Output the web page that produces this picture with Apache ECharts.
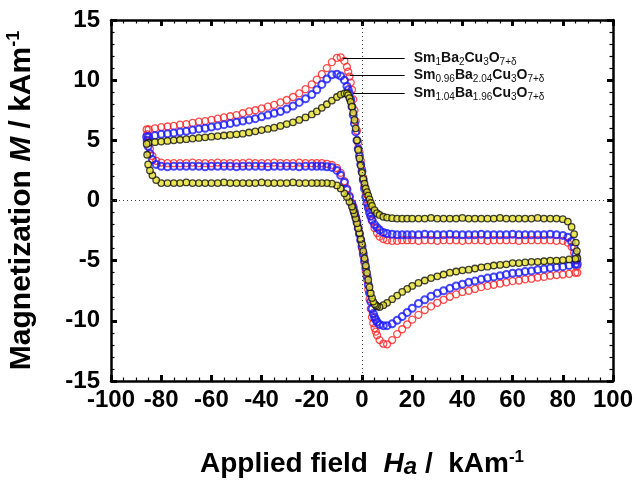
<!DOCTYPE html>
<html>
<head>
<meta charset="utf-8">
<script src="https://cdn.jsdelivr.net/npm/echarts@6/dist/echarts.min.js"></script>
<style>
  html, body { margin: 0; padding: 0; background: #fff; }
  #chart { width: 637px; height: 480px; }
</style>
</head>
<body>
<div id="chart"></div>
<script>
// field sweep going up (left -> right), then the reversal at +86
const fieldUp = [
  -85, -82.5, -80, -77.5, -75, -72.5, -70, -67.5, -65, -62.5,
  -60, -57.5, -55, -52.5, -50, -47.5, -45, -42.5, -40, -37.5,
  -35, -32.5, -30, -27.5, -25, -22.5, -20,
  -18, -16, -14, -12, -10, -8.5, -7,
  -6, -5.5, -5, -4.5, -4, -3.5, -3, -2.5, -2, -1.5, -1, -0.5, 0, 0.5, 1, 1.5, 2, 2.5, 3, 3.5, 4,
  5, 6, 7, 8.5, 10, 12, 14, 16, 18,
  20, 22.5, 25, 27.5, 30, 32.5, 35, 37.5, 40, 42.5, 45, 47.5, 50, 52.5, 55, 57.5, 60, 62.5, 65, 67.5, 70, 72.5, 75, 77.5, 80,
  82, 83.5, 84.5, 85.2, 85.6, 85.8
];
// field sweep going down (right -> left), then the reversal at -86
const fieldDown = [
  85, 82.5, 80, 77.5, 75, 72.5, 70, 67.5, 65, 62.5,
  60, 57.5, 55, 52.5, 50, 47.5, 45, 42.5, 40, 37.5,
  35, 32.5, 30, 27.5, 25, 22.5, 20,
  18, 16, 14, 12, 10, 8.5, 7,
  6, 5.5, 5, 4.5, 4, 3.5, 3, 2.5, 2, 1.5, 1, 0.5, 0, -0.5, -1, -1.5, -2, -2.5, -3, -3.5, -4,
  -5, -6, -7, -8.5, -10, -12, -14, -16, -18,
  -20, -22.5, -25, -27.5, -30, -32.5, -35, -37.5, -40, -42.5, -45, -47.5, -50, -52.5, -55, -57.5, -60, -62.5, -65, -67.5, -70, -72.5, -75, -77.5, -80,
  -82, -83.5, -84.5, -85.2, -85.6, -85.8
];

// Sm1Ba2Cu3O7+d (red)
const redUp = [
  5.9, 6.0, 6.1, 6.15, 6.2, 6.3, 6.35, 6.45, 6.55, 6.6,
  6.7, 6.8, 6.9, 7.0, 7.1, 7.25, 7.4, 7.5, 7.65, 7.8,
  7.95, 8.15, 8.35, 8.6, 8.9, 9.25, 9.65,
  10.05, 10.5, 11.0, 11.5, 11.85, 11.9, 11.6,
  11.1, 10.7, 10.3, 9.8, 9.2, 8.4, 7.5, 6.6, 5.8, 4.8, 4.0, 3.3, 2.6, 1.9, 1.2, 0.6, 0.1, -0.4, -0.8, -1.3, -1.7,
  -2.3, -2.7, -3.0, -3.2, -3.3, -3.35, -3.35, -3.3, -3.3,
  -3.3, -3.35, -3.3, -3.3, -3.35, -3.3, -3.3, -3.3, -3.35, -3.3, -3.3, -3.3, -3.35, -3.3, -3.3, -3.3, -3.3, -3.35, -3.3, -3.3, -3.3, -3.3, -3.3, -3.35, -3.35,
  -3.5, -3.85, -4.35, -4.95, -5.5, -6.0
];
const redDown = [
  -6.0, -6.1, -6.15, -6.2, -6.25, -6.35, -6.4, -6.5, -6.55, -6.65,
  -6.7, -6.8, -6.9, -7.0, -7.1, -7.2, -7.35, -7.5, -7.6, -7.8,
  -8.0, -8.25, -8.5, -8.8, -9.1, -9.5, -9.9,
  -10.3, -10.7, -11.1, -11.6, -11.95, -11.9, -11.6,
  -11.2, -10.9, -10.6, -10.2, -9.7, -9.0, -8.2, -7.4, -6.6, -5.9, -5.2, -4.6, -4.0, -3.3, -2.7, -2.2, -1.7, -1.3, -0.9, -0.5, -0.2,
  0.4, 1.0, 1.6, 2.3, 2.7, 2.95, 3.05, 3.1, 3.1,
  3.1, 3.1, 3.15, 3.1, 3.1, 3.1, 3.15, 3.1, 3.1, 3.1, 3.15, 3.1, 3.1, 3.1, 3.1, 3.15, 3.1, 3.1, 3.1, 3.15, 3.1, 3.1, 3.1, 3.1, 3.15,
  3.3, 3.7, 4.3, 4.9, 5.5, 5.9
];

// Sm0.96Ba2.04Cu3O7+d (blue)
const blueUp = [
  5.3, 5.4, 5.5, 5.55, 5.6, 5.7, 5.75, 5.85, 5.95, 6.0,
  6.1, 6.2, 6.3, 6.4, 6.5, 6.6, 6.7, 6.8, 6.95, 7.1,
  7.25, 7.4, 7.6, 7.85, 8.15, 8.45, 8.8,
  9.2, 9.65, 10.1, 10.45, 10.5, 10.35, 10.0,
  9.5, 9.2, 8.9, 8.4, 7.8, 7.1, 6.4, 5.7, 5.0, 4.3, 3.7, 3.0, 2.4, 1.7, 1.0, 0.3, -0.2, -0.6, -1.0, -1.3, -1.6,
  -2.0, -2.25, -2.45, -2.65, -2.75, -2.8, -2.85, -2.85, -2.85,
  -2.85, -2.85, -2.8, -2.85, -2.85, -2.85, -2.8, -2.85, -2.85, -2.85, -2.85, -2.8, -2.85, -2.85, -2.85, -2.85, -2.8, -2.85, -2.85, -2.85, -2.85, -2.85, -2.8, -2.85, -2.9,
  -3.05, -3.4, -3.9, -4.5, -4.95, -5.3
];
const blueDown = [
  -5.3, -5.4, -5.5, -5.55, -5.6, -5.7, -5.75, -5.85, -5.9, -6.0,
  -6.05, -6.15, -6.25, -6.35, -6.45, -6.55, -6.7, -6.8, -6.95, -7.1,
  -7.3, -7.5, -7.7, -7.95, -8.25, -8.55, -8.95,
  -9.3, -9.65, -9.95, -10.25, -10.4, -10.4, -10.3,
  -10.1, -9.9, -9.7, -9.4, -9.0, -8.4, -7.7, -7.0, -6.3, -5.6, -5.0, -4.4, -3.8, -3.3, -2.8, -2.3, -1.8, -1.4, -1.0, -0.6, -0.3,
  0.3, 0.9, 1.5, 2.1, 2.5, 2.75, 2.8, 2.85, 2.85,
  2.85, 2.85, 2.8, 2.85, 2.85, 2.85, 2.85, 2.8, 2.85, 2.85, 2.85, 2.85, 2.8, 2.85, 2.85, 2.85, 2.85, 2.8, 2.85, 2.85, 2.85, 2.85, 2.85, 2.8, 2.85,
  3.0, 3.4, 3.9, 4.5, 5.0, 5.3
];

// Sm1.04Ba1.96Cu3O7+d (black / yellow)
const blackUp = [
  4.8, 4.85, 4.9, 4.95, 5.0, 5.05, 5.1, 5.15, 5.2, 5.25,
  5.3, 5.35, 5.4, 5.45, 5.5, 5.55, 5.65, 5.75, 5.85, 5.95,
  6.05, 6.2, 6.35, 6.5, 6.7, 6.9, 7.15,
  7.4, 7.7, 8.0, 8.3, 8.6, 8.8, 8.9,
  8.9, 8.75, 8.5, 8.2, 7.8, 7.3, 6.7, 6.0, 5.0, 4.2, 3.5, 2.9, 2.3, 1.8, 1.4, 1.0, 0.7, 0.4, 0.1, -0.2, -0.45,
  -0.8, -1.05, -1.2, -1.35, -1.42, -1.47, -1.5, -1.5, -1.5,
  -1.5, -1.5, -1.5, -1.45, -1.5, -1.5, -1.5, -1.5, -1.45, -1.5, -1.5, -1.5, -1.5, -1.5, -1.45, -1.5, -1.5, -1.5, -1.5, -1.5, -1.45, -1.5, -1.5, -1.5, -1.55,
  -1.75, -2.2, -2.8, -3.5, -4.2, -4.8
];
const blackDown = [
  -4.85, -4.9, -4.95, -5.0, -5.0, -5.05, -5.1, -5.1, -5.15, -5.2,
  -5.2, -5.3, -5.35, -5.4, -5.5, -5.55, -5.65, -5.75, -5.8, -5.9,
  -6.0, -6.15, -6.3, -6.45, -6.65, -6.85, -7.1,
  -7.35, -7.6, -7.9, -8.2, -8.5, -8.7, -8.85,
  -8.8, -8.7, -8.6, -8.4, -8.1, -7.7, -7.2, -6.6, -6.0, -5.4, -4.8, -4.2, -3.6, -3.2, -2.7, -2.3, -1.9, -1.5, -1.1, -0.8, -0.5,
  -0.1, 0.3, 0.6, 1.0, 1.25, 1.4, 1.45, 1.45, 1.45,
  1.45, 1.45, 1.45, 1.5, 1.45, 1.45, 1.45, 1.45, 1.5, 1.45, 1.45, 1.45, 1.45, 1.45, 1.5, 1.45, 1.45, 1.45, 1.45, 1.45, 1.5, 1.45, 1.45, 1.45, 1.45,
  1.7, 2.1, 2.5, 3.0, 3.8, 4.7
];

const fontFamily = "'Liberation Sans', Arial, sans-serif";

function toPoints(xs, ys) {
  return xs.map((x, i) => [x, ys[i]]);
}

function loopData(up, down) {
  return toPoints(fieldUp, up).concat(toPoints(fieldDown, down));
}

// little pointer line + formula text next to each peak
function pointer(fromX, y, text) {
  return {
    silent: true,
    symbol: ['none', 'none'],
    animation: false,
    lineStyle: { color: '#000', width: 1, type: 'solid' },
    label: {
      show: true,
      position: 'end',
      distance: 9,
      formatter: text,
      rich: {
        m: { fontSize: 14, fontWeight: 'bold', fontFamily: fontFamily, color: '#111', lineHeight: 18 },
        s: { fontSize: 10, fontFamily: fontFamily, color: '#111', lineHeight: 9, verticalAlign: 'bottom' }
      }
    },
    data: [[{ coord: [fromX, y] }, { coord: [17, y] }]]
  };
}

function frameAxis(extra) {
  return Object.assign({
    type: 'value',
    axisLine: { show: true, onZero: false, lineStyle: { color: '#000', width: 2.5 } },
    axisTick: { show: true, inside: true, length: 6, lineStyle: { color: '#000', width: 3 } },
    minorTick: { show: true, length: 3.5, lineStyle: { color: '#000', width: 1.2 } },
    splitLine: { show: false },
    axisLabel: { show: false }
  }, extra);
}

const tickLabel = { show: true, fontSize: 24, fontWeight: 'bold', color: '#000', fontFamily: fontFamily };

const chart = echarts.init(document.getElementById('chart'));
chart.setOption({
  backgroundColor: '#fff',
  animation: false,
  grid: { left: 111, right: 24, top: 20, bottom: 99, outerBoundsMode: 'none' },
  xAxis: [
    frameAxis({
      position: 'bottom', min: -100, max: 100, interval: 20,
      minorTick: { show: true, splitNumber: 4, length: 3.5, lineStyle: { color: '#000', width: 1.2 } },
      axisLabel: Object.assign({ margin: 7 }, tickLabel),
      name: '{t|Applied field  }{i|H}{a|a}{t| /  kAm}{p|-1}',
      nameLocation: 'middle',
      nameGap: 68,
      nameTextStyle: {
        rich: {
          t: { fontSize: 28, fontWeight: 'bold', fontFamily: fontFamily, color: '#000', lineHeight: 30 },
          i: { fontSize: 28, fontWeight: 'bold', fontStyle: 'italic', fontFamily: fontFamily, color: '#000', lineHeight: 30 },
          a: { fontSize: 24, fontWeight: 'bold', fontStyle: 'italic', fontFamily: fontFamily, color: '#000', lineHeight: 16, verticalAlign: 'bottom' },
          p: { fontSize: 17, fontWeight: 'bold', fontFamily: fontFamily, color: '#000', lineHeight: 16, verticalAlign: 'top' }
        }
      }
    }),
    frameAxis({
      position: 'top', min: -100, max: 100, interval: 20,
      minorTick: { show: true, splitNumber: 4, length: 3.5, lineStyle: { color: '#000', width: 1.2 } }
    })
  ],
  yAxis: [
    frameAxis({
      position: 'left', min: -15, max: 15, interval: 5,
      minorTick: { show: true, splitNumber: 5, length: 3.5, lineStyle: { color: '#000', width: 1.2 } },
      axisLabel: Object.assign({ margin: 11 }, tickLabel),
      name: '{b|Magnetization }{i|M}{b| / kAm}{p|-1}',
      nameLocation: 'middle',
      nameGap: 72,
      nameTextStyle: {
        rich: {
          b: { fontSize: 30, fontWeight: 'bold', fontFamily: fontFamily, color: '#000', lineHeight: 34 },
          i: { fontSize: 30, fontWeight: 'bold', fontStyle: 'italic', fontFamily: fontFamily, color: '#000', lineHeight: 34 },
          p: { fontSize: 18, fontWeight: 'bold', fontFamily: fontFamily, color: '#000', lineHeight: 18, verticalAlign: 'top' }
        }
      }
    }),
    frameAxis({
      position: 'right', min: -15, max: 15, interval: 5,
      minorTick: { show: true, splitNumber: 5, length: 3.5, lineStyle: { color: '#000', width: 1.2 } }
    })
  ],
  series: [
    {
      name: 'zero',
      type: 'line',
      data: [],
      markLine: {
        silent: true,
        symbol: ['none', 'none'],
        animation: false,
        label: { show: false },
        lineStyle: { color: '#444', width: 1, type: [1, 3] },
        data: [{ xAxis: 0 }, { yAxis: 0 }]
      }
    },
    {
      name: 'Sm1Ba2Cu3O7+δ',
      type: 'scatter',
      symbol: 'circle',
      symbolSize: 7,
      itemStyle: { color: 'rgba(255,255,255,0)', borderColor: '#ff1f1f', borderWidth: 1.3 },
      data: loopData(redUp, redDown),
      markLine: pointer(-7.6, 11.8, '{m|Sm}{s|1}{m|Ba}{s|2}{m|Cu}{s|3}{m|O}{s|7+δ}')
    },
    {
      name: 'Sm0.96Ba2.04Cu3O7+δ',
      type: 'scatter',
      symbol: 'circle',
      symbolSize: 7,
      itemStyle: { color: 'rgba(255,255,255,0)', borderColor: '#1a1aff', borderWidth: 2 },
      data: loopData(blueUp, blueDown),
      markLine: pointer(-4.8, 10.4, '{m|Sm}{s|0.96}{m|Ba}{s|2.04}{m|Cu}{s|3}{m|O}{s|7+δ}')
    },
    {
      name: 'Sm1.04Ba1.96Cu3O7+δ',
      type: 'scatter',
      symbol: 'circle',
      symbolSize: 6.5,
      itemStyle: { color: '#e6e02a', borderColor: '#111', borderWidth: 1.3 },
      data: loopData(blackUp, blackDown),
      markLine: pointer(-3.5, 8.9, '{m|Sm}{s|1.04}{m|Ba}{s|1.96}{m|Cu}{s|3}{m|O}{s|7+δ}')
    }
  ]
});
</script>
</body>
</html>
